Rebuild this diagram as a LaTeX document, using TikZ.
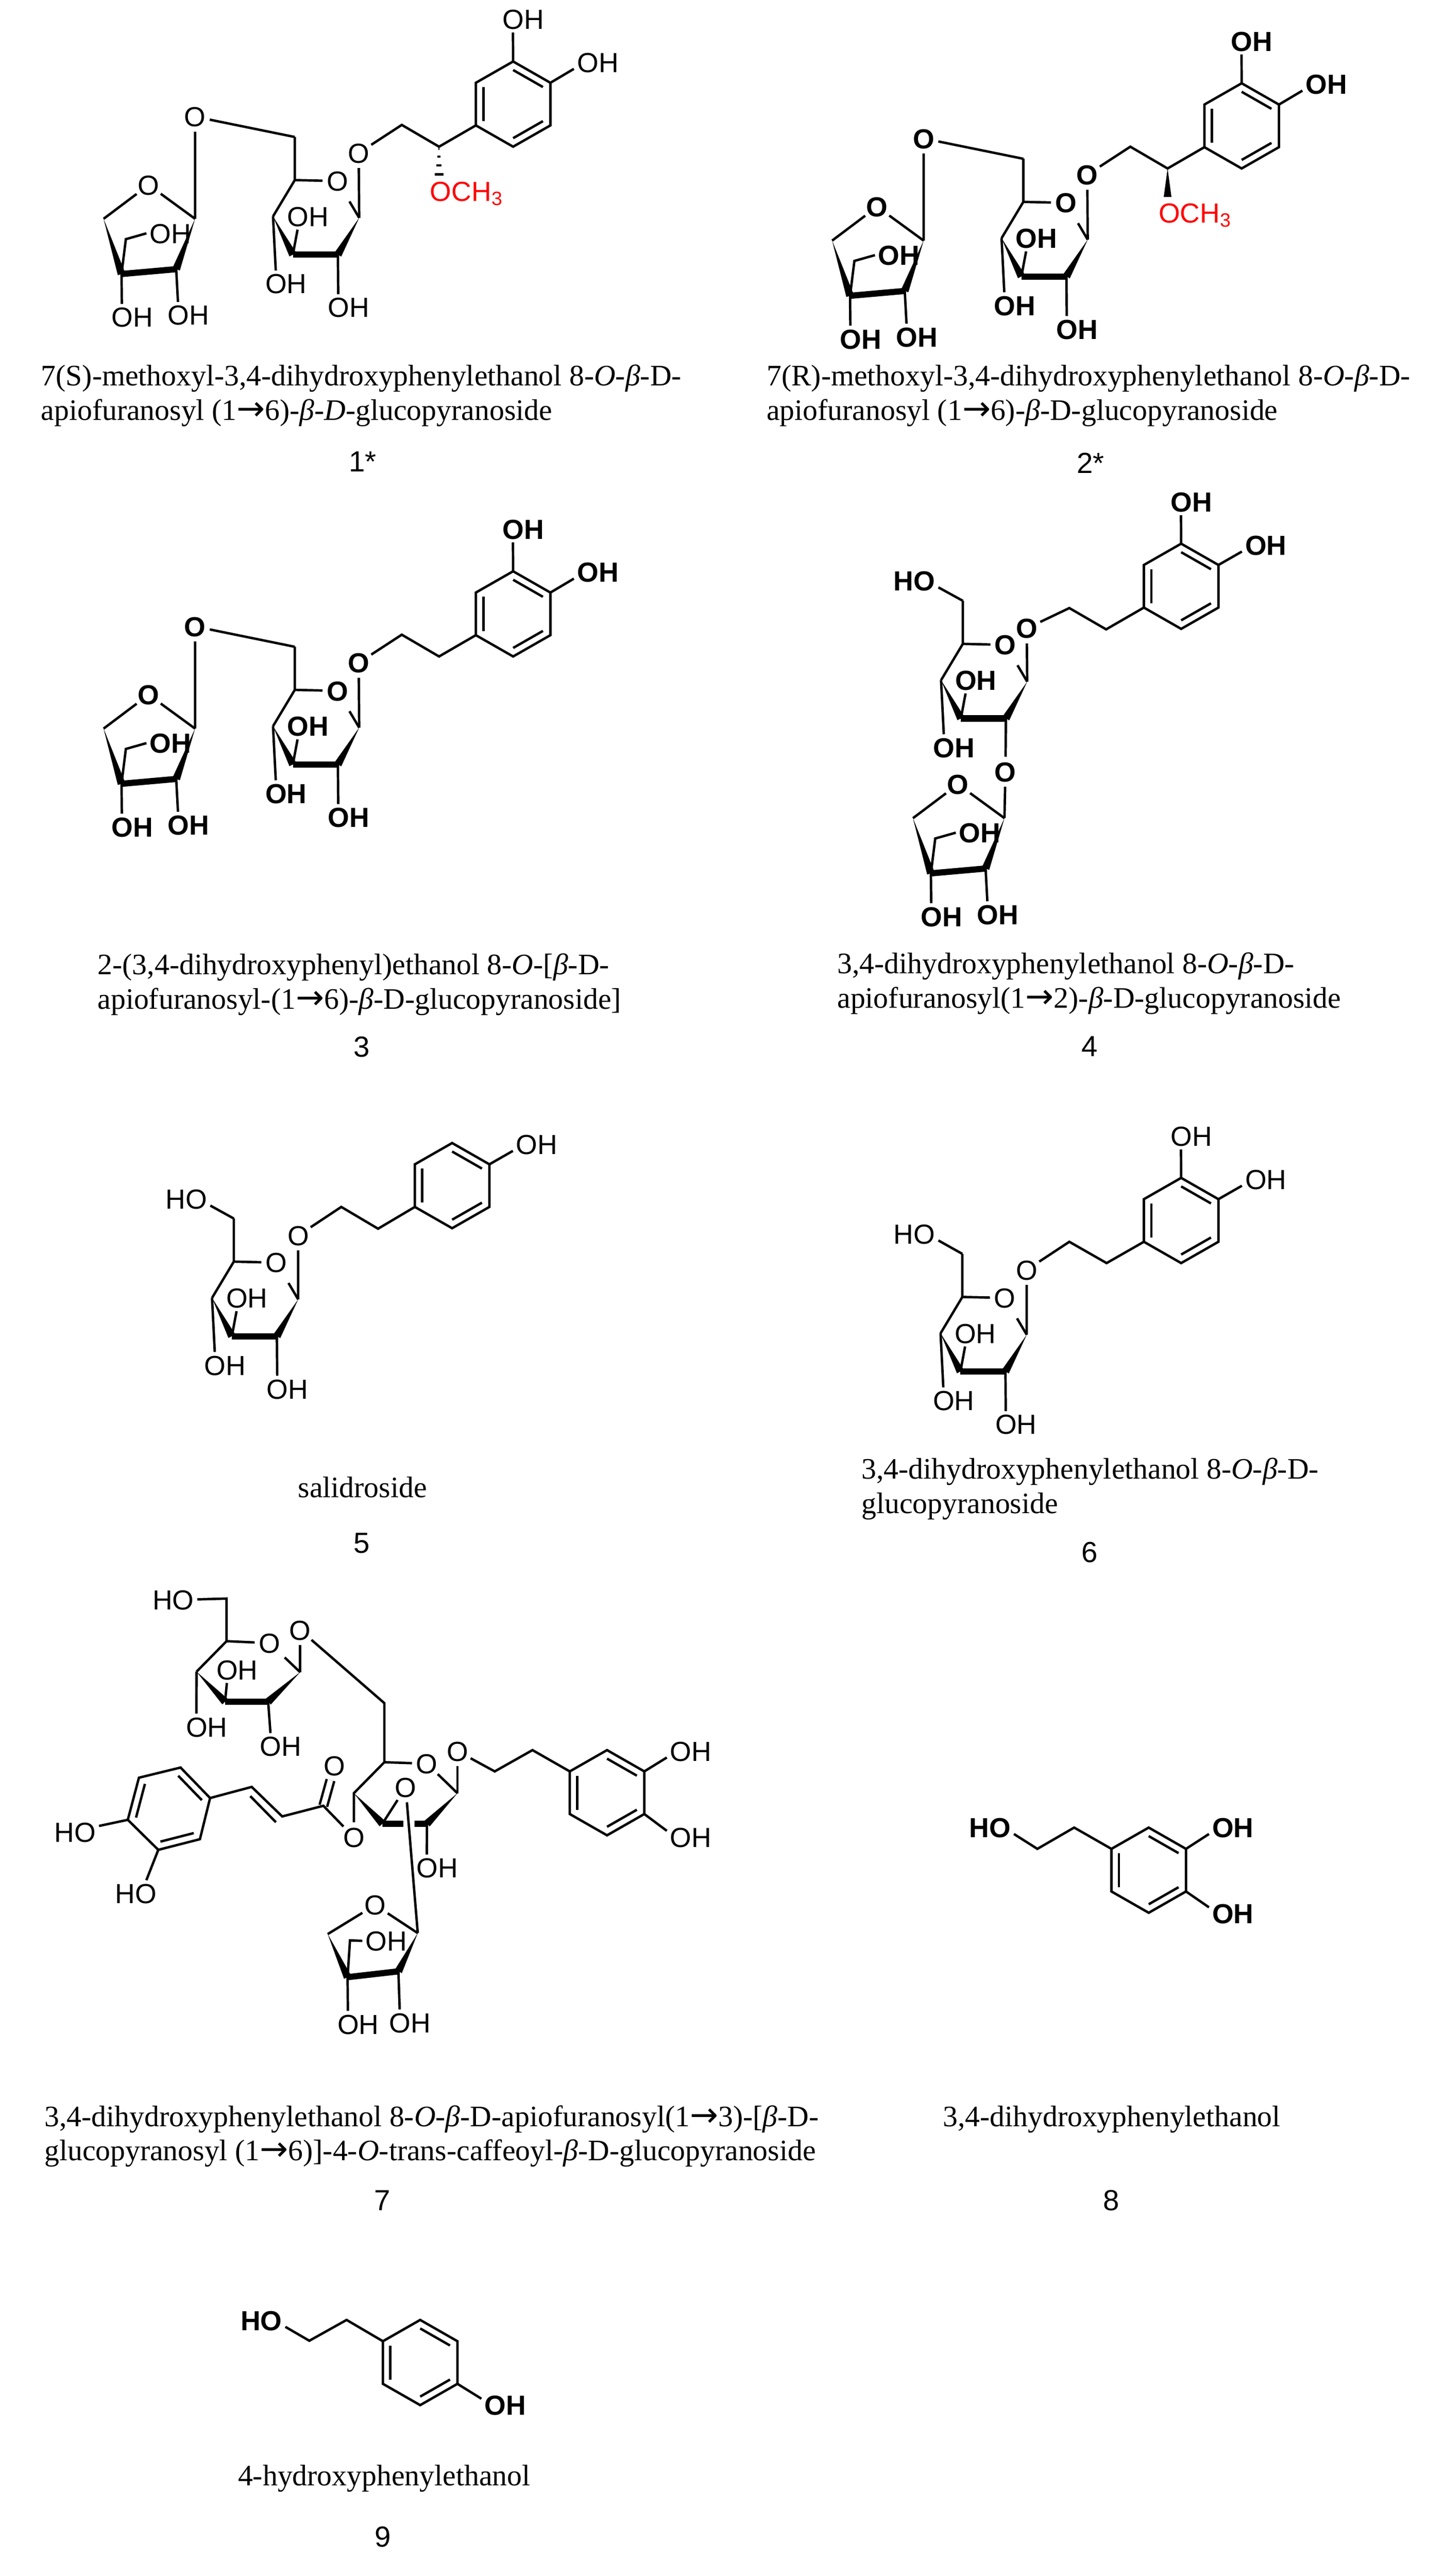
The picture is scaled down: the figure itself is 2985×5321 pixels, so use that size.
\documentclass[tikz,border=0pt]{standalone}
\usepackage{fontspec}
\setmainfont{Liberation Serif}
\setsansfont{Liberation Sans}
\newfontfamily\arrowfamily{DejaVu Sans}
\usetikzlibrary{calc}
\newcommand{\chemfont}{\fontsize{14.25}{16}\selectfont\sffamily}
\newcommand{\capfont}{\fontsize{15.35}{17.75}\selectfont\rmfamily}
\newcommand{\numfont}{\fontsize{15}{18}\selectfont\sffamily}
\newcommand{\toarrow}{{\arrowfamily\fontsize{17.5}{17.75}\selectfont →}}
\tikzset{
  bond/.style={line width=1.25pt},
  thickbond/.style={line width=3.2pt},
  dblbond/.style={double, line width=1.25pt, double distance=2.75pt},
  atom/.style={font=\chemfont, inner sep=1.5pt, text height=10.25pt, text depth=0pt},
  oxy/.style={atom, circle, inner sep=0pt, minimum size=14pt},
  boldatoms/.style={atom/.append style={font=\chemfont\bfseries}},
  cpdname/.style={font=\capfont, anchor=base west, align=left, inner sep=0pt},
  cpdnum/.style={font=\numfont, inner sep=0pt}
}
\newcommand{\wedgebond}[2]{\fill (#1) -- ($(#2)!2pt!90:(#1)$) -- ($(#2)!2pt!-90:(#1)$) -- cycle;}
\newcommand{\glucosyl}[2]{
  \begin{scope}[shift={(#2)}]
    \coordinate (#1c5) at (0,0);
    \coordinate (#1ch) at (0,-89);
    \node[oxy] (#1o) at (88,2) {O};
    \coordinate (#1c1) at (133,78);
    \coordinate (#1c2) at (89,154);
    \coordinate (#1c3) at (-4,154);
    \coordinate (#1c4) at (-45,75);
    \node[atom] (#1oh3) at (27,75) {OH};
    \node[atom] (#1oh4) at (-18,214) {OH};
    \draw[bond] (#1ch) -- (#1c5) -- (#1o);
    \draw[bond] (#1c5) -- (#1c4);
    \draw[bond, shorten >=4.5pt] (#1c1) -- (#1o);
    \wedgebond{#1c4}{#1c3}
    \wedgebond{#1c1}{#1c2}
    \draw[thickbond] (#1c3) -- (#1c2);
    \draw[bond] (#1c3) -- (#1oh3.232);
    \draw[bond] (#1c4) -- (#1oh4.128);
  \end{scope}
}
\newcommand{\glucoseoh}[1]{
  \node[atom] (#1oh2) at ($(#1c2)+(22,109)$) {OH};
  \draw[bond] (#1c2) -- (#1oh2.128);
}
\newcommand{\apiosyl}[2]{
  \begin{scope}[shift={(#2)}]
    \coordinate (#1c1) at (0,0);
    \node[oxy] (#1o) at (-96,-70) {O};
    \coordinate (#1c4) at (-189,0);
    \coordinate (#1c3) at (-152,114);
    \coordinate (#1c2) at (-39,104);
    \coordinate (#1ch) at (-143,42);
    \node[atom] (#1ohc) at (-51,30) {OH};
    \node[atom] (#1oh3) at (-130,203) {OH};
    \node[atom] (#1oh2) at (-14,199) {OH};
    \draw[bond] (#1c4) -- (#1o) -- (#1c1);
    \wedgebond{#1c4}{#1c3}
    \wedgebond{#1c1}{#1c2}
    \draw[thickbond] (#1c3) -- (#1c2);
    \draw[bond] (#1c3) -- (#1ch) -- (#1ohc.west);
    \draw[bond] (#1c3) -- (#1oh3.128);
    \draw[bond] (#1c2) -- (#1oh2.128);
  \end{scope}
}
\newcommand{\benzene}[2]{
  \begin{scope}[shift={(#2)}]
    \coordinate (#1a) at (0,0);
    \coordinate (#1b) at (77,-44);
    \coordinate (#1c) at (154,0);
    \coordinate (#1d) at (154,88);
    \coordinate (#1e) at (77,132);
    \coordinate (#1f) at (0,88);
    \coordinate (#1m) at (77,44);
    \draw[bond, line join=miter] (#1a) -- (#1b) -- (#1c) -- (#1d) -- (#1e) -- (#1f) -- cycle;
    \foreach \p/\q in {a/f,b/c,d/e} {
      \draw[bond] ($(#1\p)!.2!(#1m)$) -- ($(#1\q)!.2!(#1m)$);
    }
  \end{scope}
}
\newcommand{\apioglucoside}[3][]{
  \begin{scope}[shift={(#3)},#1]
    \glucosyl{#2g}{609,372}
    \glucoseoh{#2g}
    \apiosyl{#2f}{403,452}
    \benzene{#2r}{983,171}
    \node[oxy] (#2o1) at (403,241) {O};
    \node[oxy] (#2o8) at (741,316) {O};
    \coordinate (#2c8) at (830,258);
    \coordinate (#2c7) at (907,303);
    \node[atom] (#2oh3) at (1081,40) {OH};
    \node[atom] (#2oh4) at (1235,129) {OH};
    \draw[bond] (#2fc1) -- (#2o1) -- (#2gch);
    \draw[bond] (#2gc1) -- (#2o8) -- (#2c8) -- (#2c7) -- (#2rf);
    \draw[bond] (#2rb) -- (#2oh3.232);
    \draw[bond] (#2rc) -- (#2oh4.195);
  \end{scope}
}
\begin{document}
\begin{tikzpicture}[x=0.25pt,y=-0.25pt]
  \useasboundingbox (0,0) rectangle (2985,5321);
  \apioglucoside{m1}{0,0}
  \node[atom, text=red] (m1me) at (964,395) {OCH\textsubscript{3}};
  \foreach \d/\w in {2/1,18/3,36/5.5,55/9} {
    \fill ($(m1c7)+(-\w,\d)$) rectangle ($(m1c7)+(\w,\d+5)$);
  }
  \apioglucoside[boldatoms]{m2}{1505,45}
  \node[atom, boldatoms, text=red] (m2me) at (2469,440) {OCH\textsubscript{3}};
  \coordinate (m2w) at (2412,407);
  \wedgebond{m2c7}{m2w}
  \apioglucoside[boldatoms]{m3}{0,1053}
  \begin{scope}[boldatoms]
    \glucosyl{m4g}{1989,1330}
    \apiosyl{m4f}{2075,1690}
    \benzene{m4r}{2363,1167}
    \node[atom] (m4ho) at (1889,1200) {HO};
    \node[oxy] (m4o2) at (2077,1594) {O};
    \node[oxy] (m4o8) at (2121,1298) {O};
    \coordinate (m4c8) at (2209,1256);
    \coordinate (m4c7) at (2285,1300);
    \node[atom] (m4oh3) at (2461,1037) {OH};
    \node[atom] (m4oh4) at (2615,1126) {OH};
    \draw[bond] (m4gch) -- (m4ho.-15);
    \draw[bond] (m4gc2) -- (m4o2) -- (m4fc1);
    \draw[bond] (m4gc1) -- (m4o8) -- (m4c8) -- (m4c7) -- (m4rf);
    \draw[bond] (m4rb) -- (m4oh3.232);
    \draw[bond] (m4rc) -- (m4oh4.195);
  \end{scope}
  \glucosyl{m5g}{483,2606}
  \glucoseoh{m5g}
  \benzene{m5r}{857,2405}
  \node[atom] (m5ho) at (385,2477) {HO};
  \node[oxy] (m5o8) at (616,2552) {O};
  \coordinate (m5c8) at (705,2493);
  \coordinate (m5c7) at (781,2538);
  \node[atom] (m5oh) at (1109,2364) {OH};
  \draw[bond] (m5gch) -- (m5ho.-15);
  \draw[bond] (m5gc1) -- (m5o8) -- (m5c8) -- (m5c7) -- (m5rf);
  \draw[bond] (m5rc) -- (m5oh.195);
  \glucosyl{m6g}{1988,2679}
  \glucoseoh{m6g}
  \benzene{m6r}{2363,2477}
  \node[atom] (m6ho) at (1889,2549) {HO};
  \node[oxy] (m6o8) at (2121,2623) {O};
  \coordinate (m6c8) at (2209,2565);
  \coordinate (m6c7) at (2286,2609);
  \node[atom] (m6oh3) at (2461,2347) {OH};
  \node[atom] (m6oh4) at (2615,2436) {OH};
  \draw[bond] (m6gch) -- (m6ho.-15);
  \draw[bond] (m6gc1) -- (m6o8) -- (m6c8) -- (m6c7) -- (m6rf);
  \draw[bond] (m6rb) -- (m6oh3.232);
  \draw[bond] (m6rc) -- (m6oh4.195);
  \coordinate (m7uc5) at (468,3390);
  \coordinate (m7uch) at (468,3302);
  \node[atom] (m7uho) at (358,3305) {HO};
  \node[oxy] (m7uo) at (557,3394) {O};
  \node[oxy] (m7uo1) at (620,3367) {O};
  \coordinate (m7uc1) at (620,3454);
  \coordinate (m7uc2) at (554,3515);
  \coordinate (m7uc3) at (465,3515);
  \coordinate (m7uc4) at (406,3453);
  \node[atom] (m7uoh3) at (490,3449) {OH};
  \node[atom] (m7uoh4) at (427,3567) {OH};
  \node[atom] (m7uoh2) at (580,3607) {OH};
  \draw[bond] (m7uho) -- (m7uch) -- (m7uc5) -- (m7uo);
  \draw[bond] (m7uc5) -- (m7uc4);
  \draw[bond, shorten >=3pt] (m7uc1) -- (m7uo);
  \draw[bond] (m7uc1) -- (m7uo1);
  \wedgebond{m7uc4}{m7uc3}
  \wedgebond{m7uc1}{m7uc2}
  \draw[thickbond] (m7uc3) -- (m7uc2);
  \draw[bond] (m7uc3) -- (m7uoh3.232);
  \draw[bond] (m7uc4) -- (m7uoh4.128);
  \draw[bond] (m7uc2) -- (m7uoh2.128);
  \coordinate (m7gch) at (794,3518);
  \coordinate (m7gc5) at (794,3640);
  \node[oxy] (m7go) at (882,3643) {O};
  \coordinate (m7gc1) at (945,3704);
  \coordinate (m7gc2) at (882,3767);
  \coordinate (m7gc3) at (790,3767);
  \coordinate (m7gc4) at (731,3704);
  \node[oxy] (m7go1) at (945,3617) {O};
  \node[oxy] (m7go3) at (838,3692) {O};
  \node[oxy] (m7go4) at (731,3795) {O};
  \node[atom] (m7goh2) at (903,3858) {OH};
  \draw[bond] (m7uo1) -- (m7gch) -- (m7gc5) -- (m7go);
  \draw[bond] (m7gc5) -- (m7gc4) -- (m7go4);
  \draw[bond] (m7gc1) -- (m7go);
  \draw[bond] (m7gc1) -- (m7go1);
  \wedgebond{m7gc4}{m7gc3}
  \wedgebond{m7gc1}{m7gc2}
  \draw[thickbond] (m7gc3) -- ($(m7gc3)!.47!(m7gc2)$);
  \draw[thickbond] ($(m7gc3)!.72!(m7gc2)$) -- (m7gc2);
  \draw[bond] (m7gc3) -- (m7go3);
  \draw[bond] (m7gc2) -- (m7goh2.128);
  \benzene{m7r}{1177,3659}
  \coordinate (m7c8) at (1022,3659);
  \coordinate (m7c7) at (1100,3615);
  \node[atom] (m7oh3) at (1427,3617) {OH};
  \node[atom] (m7oh4) at (1427,3795) {OH};
  \draw[bond] (m7go1) -- (m7c8) -- (m7c7) -- (m7ra);
  \draw[bond] (m7rc) -- (m7oh3.195);
  \draw[bond] (m7rd) -- (m7oh4.165);
  \coordinate (m7cc) at (668,3730);
  \node[oxy] (m7co) at (691,3647) {O};
  \coordinate (m7cb) at (583,3752);
  \coordinate (m7ca) at (520,3691);
  \coordinate (m7k1) at (434,3714);
  \coordinate (m7k2) at (373,3651);
  \coordinate (m7k3) at (287,3672);
  \coordinate (m7k4) at (264,3759);
  \coordinate (m7k5) at (327,3821);
  \coordinate (m7k6) at (413,3799);
  \coordinate (m7km) at (349,3736);
  \node[atom] (m7koh4) at (155,3784) {HO};
  \node[atom] (m7koh3) at (281,3911) {HO};
  \draw[dblbond] (m7cc) -- (m7co);
  \draw[bond] (m7go4) -- (m7cc) -- (m7cb) -- (m7ca) -- (m7k1);
  \draw[bond] ($(m7ca)+(-3,19)$) -- ($(m7cb)+(-13,12)$);
  \draw[bond, line join=miter] (m7k1) -- (m7k2) -- (m7k3) -- (m7k4) -- (m7k5) -- (m7k6) -- cycle;
  \foreach \p/\q in {1/2,3/4,5/6} {
    \draw[bond] ($(m7k\p)!.2!(m7km)$) -- ($(m7k\q)!.2!(m7km)$);
  }
  \draw[bond] (m7k4) -- (m7koh4.14);
  \draw[bond] (m7k5) -- (m7koh3.52);
  \node[oxy] (m7fo) at (775,3935) {O};
  \coordinate (m7fc1) at (863,3993);
  \coordinate (m7fc2) at (823,4072);
  \coordinate (m7fc3) at (718,4084);
  \coordinate (m7fc4) at (677,3995);
  \coordinate (m7fch) at (723,4008);
  \node[atom] (m7fohc) at (798,4009) {OH};
  \node[atom] (m7foh3) at (740,4181) {OH};
  \node[atom] (m7foh2) at (847,4178) {OH};
  \draw[bond] (m7go3) -- (m7fc1);
  \draw[bond] (m7fc4) -- (m7fo) -- (m7fc1);
  \wedgebond{m7fc4}{m7fc3}
  \wedgebond{m7fc1}{m7fc2}
  \draw[thickbond] (m7fc3) -- (m7fc2);
  \draw[bond] (m7fc3) -- (m7fch) -- (m7fohc.west);
  \draw[bond] (m7fc3) -- (m7foh3.128);
  \draw[bond] (m7fc2) -- (m7foh2.128);
  \begin{scope}[boldatoms]
    \benzene{m8r}{2296,3819}
    \coordinate (m8c7) at (2219,3775);
    \coordinate (m8c8) at (2143,3819);
    \node[atom] (m8ho) at (2045,3775) {HO};
    \node[atom] (m8oh3) at (2547,3775) {OH};
    \node[atom] (m8oh4) at (2547,3953) {OH};
    \draw[bond] (m8ho.-15) -- (m8c8) -- (m8c7) -- (m8ra);
    \draw[bond] (m8rc) -- (m8oh3.195);
    \draw[bond] (m8rd) -- (m8oh4.165);
    \benzene{m9r}{791,4836}
    \coordinate (m9c7) at (716,4792);
    \coordinate (m9c8) at (639,4835);
    \node[atom] (m9ho) at (540,4793) {HO};
    \node[atom] (m9oh) at (1044,4968) {OH};
    \draw[bond] (m9ho.-15) -- (m9c8) -- (m9c7) -- (m9ra);
    \draw[bond] (m9rd) -- (m9oh.165);
  \end{scope}
  \node[cpdname] (name1) at (84,868) {7(S)-methoxyl-3,4-dihydroxyphenylethanol 8-\textit{O}-\textit{β}-D-\\apiofuranosyl (1\toarrow{}6)-\textit{β}-\textit{D}-glucopyranoside};
  \node[cpdname] (name2) at (1583,868) {7(R)-methoxyl-3,4-dihydroxyphenylethanol 8-\textit{O}-\textit{β}-D-\\apiofuranosyl (1\toarrow{}6)-\textit{β}-D-glucopyranoside};
  \node[cpdname] (name3) at (201,2084) {2-(3,4-dihydroxyphenyl)ethanol 8-\textit{O}-[\textit{β}-D-\\apiofuranosyl-(1\toarrow{}6)-\textit{β}-D-glucopyranoside]};
  \node[cpdname] (name4) at (1729,2082) {3,4-dihydroxyphenylethanol 8-\textit{O}-\textit{β}-D-\\apiofuranosyl(1\toarrow{}2)-\textit{β}-D-glucopyranoside};
  \node[cpdname] (name5) at (615,3093) {salidroside};
  \node[cpdname] (name6) at (1779,3126) {3,4-dihydroxyphenylethanol 8-\textit{O}-\textit{β}-D-\\glucopyranoside};
  \node[cpdname] (name7) at (91,4463) {3,4-dihydroxyphenylethanol 8-\textit{O}-\textit{β}-D-apiofuranosyl(1\toarrow{}3)-[\textit{β}-D-\\glucopyranosyl (1\toarrow{}6)]-4-\textit{O}-trans-caffeoyl-\textit{β}-D-glucopyranoside};
  \node[cpdname] (name8) at (1947,4392) {3,4-dihydroxyphenylethanol};
  \node[cpdname] (name9) at (491,5134) {4-hydroxyphenylethanol};
  \node[cpdnum] (num1) at (749,954) {1*};
  \node[cpdnum] (num2) at (2253,956) {2*};
  \node[cpdnum] (num3) at (747,2162) {3};
  \node[cpdnum] (num4) at (2251,2162) {4};
  \node[cpdnum] (num5) at (747,3188) {5};
  \node[cpdnum] (num6) at (2251,3207) {6};
  \node[cpdnum] (num7) at (790,4545) {7};
  \node[cpdnum] (num8) at (2296,4545) {8};
  \node[cpdnum] (num9) at (791,5240) {9};
\end{tikzpicture}
\end{document}
